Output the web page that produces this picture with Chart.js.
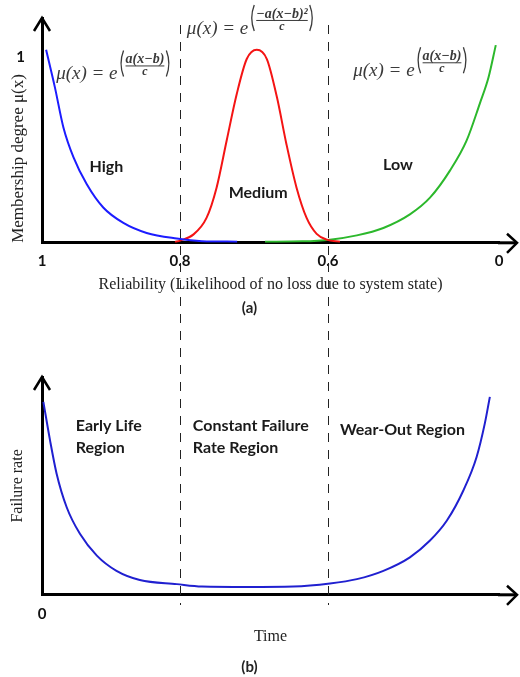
<!DOCTYPE html>
<html>
<head>
<meta charset="utf-8">
<script src="https://cdn.jsdelivr.net/npm/chart.js@4"></script>
<style>
  body { margin: 0; background: #fff; }
  .box { position: absolute; left: 0; width: 520px; }
</style>
</head>
<body>
<div class="box" style="top:0;height:335px"><canvas id="chartA" width="520" height="335"></canvas></div>
<div class="box" style="top:335px;height:342px"><canvas id="chartB" width="520" height="342"></canvas></div>
<script>
// x is a schematic position: 0 = left axis, 100 = last tick
const regionEdges = [30.2, 62.6];
const reliabilityTicks = [0, 30.2, 62.6, 100];
const reliabilityLabels = ['1', '0.8', '0.6', '0'];
const membershipTicks = [1];
const membershipLabels = ['1'];
const timeTicks = [0];
const timeLabels = ['0'];

// (a) membership functions
const highX = [0.9, 2.8, 4.7, 6.9, 9.8, 13.4, 17.8, 22.9, 29.5, 35, 42.7];
const highY = [1.04, 0.84, 0.62, 0.46, 0.315, 0.19, 0.107, 0.053, 0.023, 0.009, 0.006];
const mediumX = [29.1, 30.2, 33.1, 36.0, 38.2, 40.4, 42.6, 44.8, 47.0, 49.2, 51.4, 53.5, 55.7, 57.9, 60.1, 62.3, 65.2];
const mediumY = [0.005, 0.012, 0.044, 0.134, 0.297, 0.55, 0.80, 0.99, 1.04, 0.99, 0.785, 0.53, 0.297, 0.134, 0.048, 0.017, 0.006];
const lowX = [48.8, 57, 63.0, 68.9, 74.7, 80.5, 84.9, 89.3, 92.9, 95.8, 97.7, 99.3];
const lowY = [0.006, 0.008, 0.017, 0.04, 0.08, 0.153, 0.243, 0.39, 0.55, 0.75, 0.89, 1.065];

// (b) bathtub curve
const rateX = [0.3, 1.75, 3.2, 5.4, 8.3, 12.0, 16.3, 21.4, 29.5, 35, 45, 55, 63.0, 68.9, 74.7, 80.5, 84.9, 88.6, 92.2, 95.1, 96.9, 98.0];
const rateY = [0.886, 0.71, 0.556, 0.402, 0.28, 0.18, 0.11, 0.068, 0.049, 0.038, 0.036, 0.038, 0.052, 0.072, 0.11, 0.172, 0.249, 0.341, 0.479, 0.633, 0.787, 0.909];

const pts = (xs, ys) => xs.map((x, i) => ({x: x, y: ys[i]}));

const boldFont = {family: 'Lato', weight: 'bold', size: 15};
const serifFont = {family: 'Liberation Serif', size: 16};

function line(label, xs, ys, color) {
    return {
        label: label,
        data: pts(xs, ys),
        borderColor: color,
        borderWidth: 2,
        pointRadius: 0,
        cubicInterpolationMode: 'monotone'
    };
}

// axis arrows and the extension of the x axis past the last tick
const arrowPlugin = {
    id: 'arrows',
    afterDraw(chart) {
        const ctx = chart.ctx, a = chart.chartArea;
        ctx.save();
        ctx.strokeStyle = '#000';
        ctx.lineWidth = 3;
        ctx.beginPath();
        ctx.moveTo(a.right - 1, a.bottom);
        ctx.lineTo(a.right + 17, a.bottom);
        ctx.stroke();
        ctx.lineWidth = 2.5;
        ctx.beginPath();
        ctx.moveTo(a.right + 8, a.bottom - 9);
        ctx.lineTo(a.right + 18, a.bottom);
        ctx.lineTo(a.right + 8, a.bottom + 10);
        ctx.stroke();
        ctx.beginPath();
        ctx.moveTo(a.left - 8, a.top + 13);
        ctx.lineTo(a.left, a.top);
        ctx.lineTo(a.left + 8, a.top + 13);
        ctx.stroke();
        ctx.restore();
    }
};

function dividerPlugin(y0, y1, offset) {
    return {
        id: 'dividers',
        afterDraw(chart) {
            const ctx = chart.ctx, x = chart.scales.x;
            ctx.save();
            ctx.strokeStyle = '#222';
            ctx.lineWidth = 1;
            ctx.setLineDash([9, 8]);
            ctx.lineDashOffset = offset;
            regionEdges.forEach(v => {
                const px = Math.round(x.getPixelForValue(v)) + 0.5;
                ctx.beginPath();
                ctx.moveTo(px, y0);
                ctx.lineTo(px, y1);
                ctx.stroke();
            });
            ctx.restore();
        }
    };
}

function drawFormula(ctx, x, y, num) {
    ctx.save();
    ctx.fillStyle = '#3a3a3a';
    ctx.strokeStyle = '#3a3a3a';
    ctx.textBaseline = 'alphabetic';
    ctx.textAlign = 'left';
    ctx.font = 'italic 19px "Liberation Serif"';
    const lead = 'μ(x) = e';
    ctx.fillText(lead, x, y);
    const px = x + ctx.measureText(lead).width + 2;
    ctx.font = 'bold italic 14px "Liberation Serif"';
    const nw = ctx.measureText(num).width;
    const top = y - 29, bot = y - 3;
    ctx.lineWidth = 1.3;
    ctx.beginPath();
    ctx.moveTo(px + 4, top);
    ctx.quadraticCurveTo(px - 1, (top + bot) / 2, px + 4, bot);
    ctx.stroke();
    const nx = px + 6;
    ctx.fillText(num, nx, y - 16);
    ctx.lineWidth = 1;
    ctx.beginPath();
    ctx.moveTo(nx, y - 13.5);
    ctx.lineTo(nx + nw, y - 13.5);
    ctx.stroke();
    ctx.textAlign = 'center';
    ctx.font = 'bold italic 12px "Liberation Serif"';
    ctx.fillText('c', nx + nw / 2, y - 4);
    const rx = nx + nw + 2;
    ctx.lineWidth = 1.3;
    ctx.beginPath();
    ctx.moveTo(rx, top);
    ctx.quadraticCurveTo(rx + 5, (top + bot) / 2, rx, bot);
    ctx.stroke();
    ctx.restore();
}

function notesPlugin(notes, formulas) {
    return {
        id: 'notes',
        afterDraw(chart) {
            const ctx = chart.ctx, sx = chart.scales.x, sy = chart.scales.y;
            ctx.save();
            ctx.fillStyle = '#1a1a1a';
            ctx.font = 'bold 16px Lato';
            ctx.textBaseline = 'middle';
            notes.forEach(n => {
                ctx.textAlign = n.align || 'center';
                ctx.fillText(n.text, sx.getPixelForValue(n.x), sy.getPixelForValue(n.y));
            });
            ctx.restore();
            formulas.forEach(f => drawFormula(ctx, sx.getPixelForValue(f.x), sy.getPixelForValue(f.y), f.num));
        }
    };
}

function tickSetter(values) {
    return s => { s.ticks = values.map(v => ({value: v})); };
}

// chart.js counts tick padding twice in the axis height; take one back
function trimX(pad) {
    return s => { s.height -= pad; };
}

function trimY(s) {
    s.width = 42;
    s.paddingTop = 0;
    s.paddingBottom = 0;
}

let chartA = new Chart(document.getElementById('chartA'), {
    type: 'line',
    data: {
        datasets: [
            line('High', highX, highY, '#1c1cff'),
            line('Medium', mediumX, mediumY, '#f41414'),
            line('Low', lowX, lowY, '#2cb82c')
        ]
    },
    options: {
        responsive: false,
        animation: false,
        layout: { padding: { top: 18, right: 21, bottom: 14, left: 0 } },
        plugins: {
            legend: { display: false },
            tooltip: { enabled: false },
            title: {
                display: true,
                position: 'bottom',
                text: '(a)',
                font: boldFont,
                color: '#222',
                padding: { top: 5, bottom: 4 }
            }
        },
        scales: {
            x: {
                type: 'linear',
                min: 0,
                max: 100,
                grid: { display: false, drawTicks: false },
                border: { display: true, color: '#000', width: 3 },
                afterBuildTicks: tickSetter(reliabilityTicks),
                afterFit: trimX(9),
                ticks: {
                    callback: (v, i) => reliabilityLabels[i],
                    padding: 9,
                    maxRotation: 0,
                    autoSkip: false,
                    font: boldFont,
                    color: '#111'
                },
                title: {
                    display: true,
                    text: 'Reliability (Likelihood of no loss due to system state)',
                    font: serifFont,
                    color: '#222',
                    padding: { top: 5, bottom: 0 }
                }
            },
            y: {
                min: 0,
                max: 1.211,
                grid: { display: false, drawTicks: false },
                border: { display: true, color: '#000', width: 3 },
                afterBuildTicks: tickSetter(membershipTicks),
                afterFit: trimY,
                ticks: {
                    callback: (v, i) => membershipLabels[i],
                    padding: 17,
                    font: boldFont,
                    color: '#111'
                },
                title: {
                    display: true,
                    align: 'start',
                    text: 'Membership degree μ(x)',
                    font: { family: 'Liberation Serif', size: 17 },
                    color: '#222',
                    padding: { top: 8, bottom: 0 }
                }
            }
        }
    },
    plugins: [
        arrowPlugin,
        dividerPlugin(25, 335, 0),
        notesPlugin(
            [
                { text: 'High', x: 14.1, y: 0.41 },
                { text: 'Medium', x: 47.3, y: 0.27 },
                { text: 'Low', x: 77.9, y: 0.42 }
            ],
            [
                { x: 3.1, y: 0.88, num: 'a(x−b)' },
                { x: 31.7, y: 1.125, num: '−a(x−b)²' },
                { x: 68.1, y: 0.897, num: 'a(x−b)' }
            ]
        )
    ]
});

let chartB = new Chart(document.getElementById('chartB'), {
    type: 'line',
    data: {
        datasets: [
            line('Failure rate', rateX, rateY, '#2020d0')
        ]
    },
    options: {
        responsive: false,
        animation: false,
        layout: { padding: { top: 42, right: 21, bottom: 0, left: 0 } },
        plugins: {
            legend: { display: false },
            tooltip: { enabled: false },
            title: {
                display: true,
                position: 'bottom',
                text: '(b)',
                font: boldFont,
                color: '#222',
                padding: { top: 12, bottom: 1 }
            }
        },
        scales: {
            x: {
                type: 'linear',
                min: 0,
                max: 100,
                grid: { display: false, drawTicks: false },
                border: { display: true, color: '#000', width: 3 },
                afterBuildTicks: tickSetter(timeTicks),
                afterFit: trimX(10),
                ticks: {
                    callback: (v, i) => timeLabels[i],
                    padding: 10,
                    maxRotation: 0,
                    autoSkip: false,
                    font: boldFont,
                    color: '#111'
                },
                title: {
                    display: true,
                    text: 'Time',
                    font: serifFont,
                    color: '#222',
                    padding: { top: 4, bottom: 0 }
                }
            },
            y: {
                min: 0,
                max: 1,
                grid: { display: false, drawTicks: false },
                border: { display: true, color: '#000', width: 3 },
                afterFit: trimY,
                ticks: { display: false },
                title: {
                    display: true,
                    text: 'Failure rate',
                    font: serifFont,
                    color: '#222',
                    padding: { top: 8, bottom: 0 }
                }
            }
        }
    },
    plugins: [
        arrowPlugin,
        dividerPlugin(0, 270, 4),
        notesPlugin(
            [
                { text: 'Early Life', x: 7.4, y: 0.774, align: 'left' },
                { text: 'Region', x: 7.4, y: 0.677, align: 'left' },
                { text: 'Constant Failure', x: 33.0, y: 0.774, align: 'left' },
                { text: 'Rate Region', x: 33.0, y: 0.677, align: 'left' },
                { text: 'Wear-Out Region', x: 65.2, y: 0.756, align: 'left' }
            ],
            []
        )
    ]
});
</script>
</body>
</html>
